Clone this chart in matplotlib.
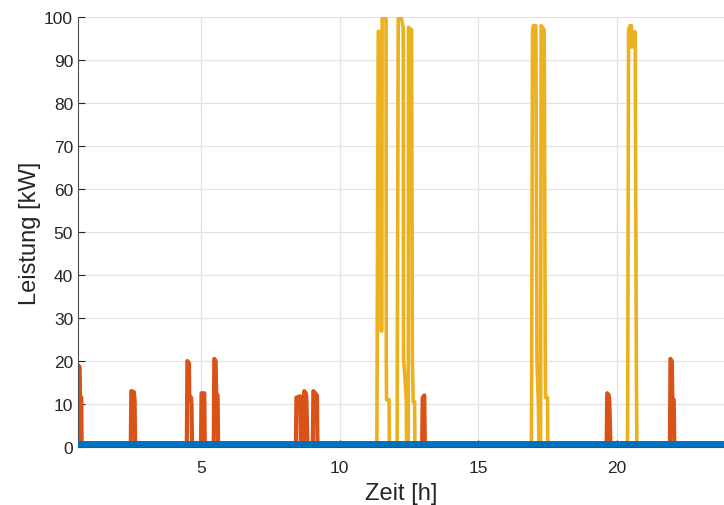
import numpy as np
import matplotlib.pyplot as plt

# Grundlast (blau), Heizstab (orange), Waermepumpe (gelb) in kW ueber Zeit in h
base_t = [0.55, 23.9]
base_p = [0.8, 0.8]

orange_t = [0.55, 0.57, 0.58, 0.63, 0.64, 0.69, 0.70,
            2.47, 2.49, 2.58, 2.61, 2.63,
            4.49, 4.51, 4.57, 4.58, 4.64, 4.66, 4.68,
            5.00, 5.02, 5.12, 5.14,
            5.46, 5.48, 5.53, 5.55, 5.60, 5.62,
            8.42, 8.44, 8.58, 8.60,
            8.70, 8.72, 8.78, 8.80, 8.84,
            9.03, 9.05, 9.12, 9.18, 9.20,
            12.97, 12.99, 13.05, 13.07,
            19.62, 19.64, 19.70, 19.72, 19.76,
            21.90, 21.92, 21.97, 21.99, 22.04, 22.06, 23.9]
orange_p = [0, 0, 19, 18.5, 12, 11.5, 0,
            0, 13, 12.8, 11, 0,
            0, 20, 19.5, 12, 11.5, 10, 0,
            0, 12.5, 12.5, 0,
            0, 20.5, 20, 12.5, 12, 0,
            0, 11.5, 11.8, 0,
            0, 13, 12.5, 11.5, 0,
            0, 13, 12.5, 12, 0,
            0, 11.5, 12, 0,
            0, 12.5, 12, 10.5, 0,
            0, 20.5, 20, 11, 11, 0, 0]

yellow_t = [0.55,
            11.34, 11.35, 11.39, 11.48, 11.49, 11.52, 11.53, 11.67, 11.68, 11.69, 11.78, 11.79,
            12.07, 12.08, 12.11, 12.23, 12.29, 12.30, 12.33, 12.40, 12.41,
            12.47, 12.48, 12.59, 12.62, 12.65, 12.70, 12.71,
            16.91, 16.92, 16.95, 16.98, 17.07, 17.11, 17.16, 17.18,
            17.24, 17.26, 17.37, 17.41, 17.42, 17.49, 17.50,
            20.37, 20.38, 20.41, 20.46, 20.51, 20.53, 20.56, 20.65, 20.69, 20.71,
            23.9]
yellow_p = [0,
            0, 21.6, 96.7, 96.5, 27, 27, 99.6, 99.6, 20, 11, 11, 0,
            0, 26.7, 99.6, 99.6, 97.5, 20.5, 18, 11, 0,
            0, 97.6, 97, 20, 10.5, 10.5, 0,
            0, 19.7, 96.8, 98, 98, 20, 10, 0,
            0, 98, 97, 20, 11.5, 11.5, 0,
            0, 10, 97, 98, 98, 93, 96.5, 96.5, 19, 0,
            0]

x_ticks = [5, 10, 15, 20]
y_ticks = [0, 10, 20, 30, 40, 50, 60, 70, 80, 90, 100]

plt.rcParams['font.family'] = ['Liberation Sans', 'DejaVu Sans']

fig = plt.figure(figsize=(7.24, 5.06), dpi=100)
ax = fig.add_axes([0.1077, 0.1146, 0.8923, 0.8498])

ax.plot(orange_t, orange_p, color='#D95319', lw=3.0, zorder=2)
ax.plot(yellow_t, yellow_p, color='#EDB120', lw=2.6, zorder=3)
ax.plot(base_t, base_p, color='#0072BD', lw=5.0, zorder=4, solid_capstyle='butt')

ax.set_xlim(0.568, 23.85)
ax.set_ylim(0, 100)
ax.set_xticks(x_ticks)
ax.set_yticks(y_ticks)
ax.grid(True, color='#e3e3e3', lw=0.9)
ax.set_axisbelow(True)
for s in ['top', 'right']:
    ax.spines[s].set_visible(False)
for s in ['left', 'bottom']:
    ax.spines[s].set_color('#4d4d4d')
    ax.spines[s].set_linewidth(0.8)
ax.tick_params(direction='in', length=5, colors='#262626', labelsize=12.5)
ax.tick_params(axis='x', pad=9.5)
ax.set_xlabel('Zeit [h]', fontsize=17, color='#262626', labelpad=5)
ax.set_ylabel('Leistung [kW]', fontsize=17, color='#262626', labelpad=2)

fig.savefig('out.png', dpi=100)
